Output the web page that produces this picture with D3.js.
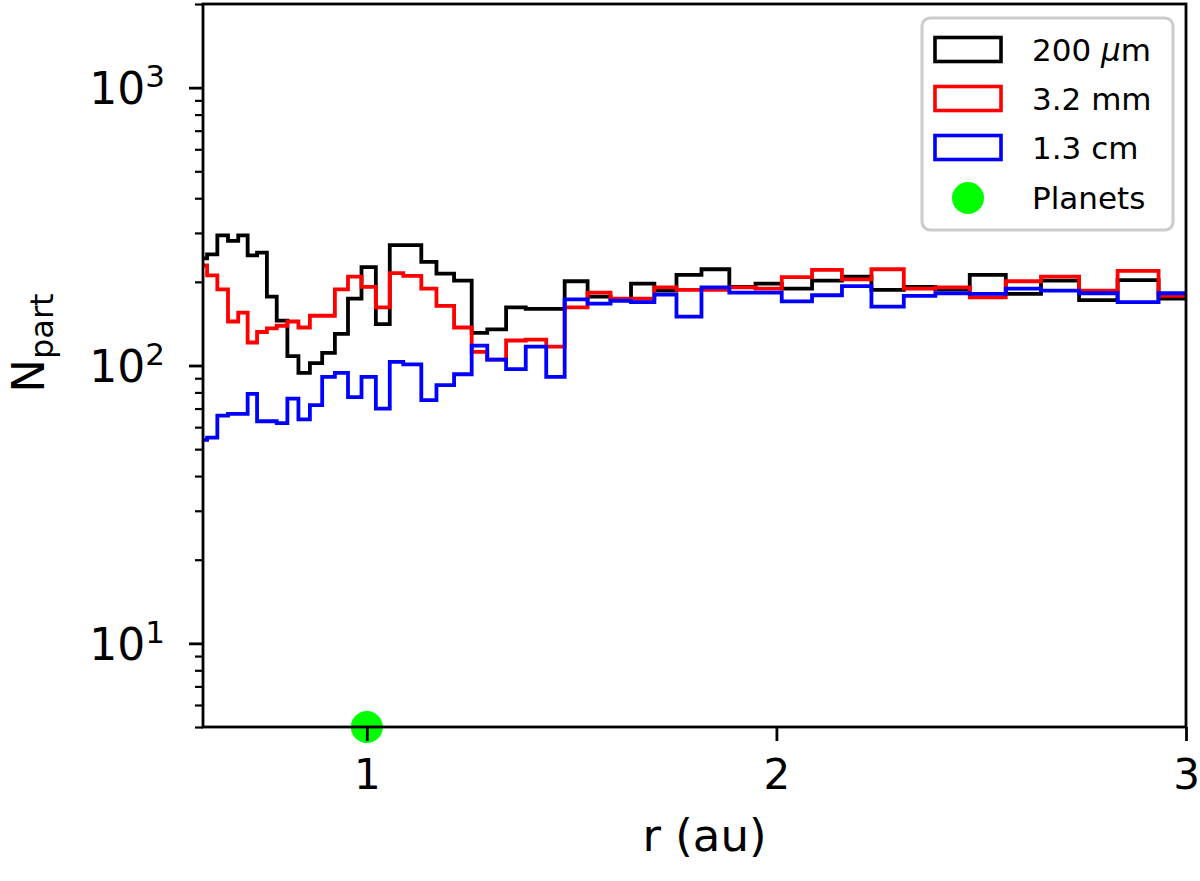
<!DOCTYPE html>
<html><head><meta charset="utf-8">
<script src="https://cdn.jsdelivr.net/npm/d3@7/dist/d3.min.js"></script>
<style>
body{margin:0;background:#fff}
svg{display:block}
text{font-family:"DejaVu Sans",sans-serif;fill:#000}
</style>
</head><body>
<svg id="chart" width="1200" height="881"></svg>
<script>
// ---- data ----
const binEdges = [0.585,0.610,0.635,0.661,0.686,0.709,0.732,0.756,0.780,0.806,0.833,0.861,0.891,0.922,0.954,0.987,1.022,1.056,1.089,1.133,1.170,1.213,1.256,1.294,1.340,1.388,1.438,1.483,1.539,1.595,1.645,1.702,1.756,1.817,1.885,1.949,2.013,2.087,2.160,2.232,2.311,2.388,2.472,2.560,2.646,2.739,2.833,2.933,3.030];
const counts200um = [243,251,294,281,294,249,255,177,145,108,94,102,111,130,174,226,141,271,271,236,214,202,131,135,162,160,160,201,177,173,197,186,212,222,192,197,189,202,209,187,192,188,212,181,202,172,203,174];
const counts32mm  = [229,211,188,144,155,121,132,136,139,144,137,151,151,188,209,192,162,215,210,189,164,137,112,105,123,124,117,162,183,174,174,191,187,187,191,189,208,221,204,222,189,191,176,201,209,186,219,178];
const counts13cm  = [54,55,66,67,67,79,63,63,62,76,64,72,91,94,77,91,70,103,101,75,85,93,118,105,97,117,91,173,167,171,169,180,150,191,183,183,170,179,193,163,178,182,181,189,186,182,169,182];
const seriesLabels = ["200 μm","3.2 mm","1.3 cm"];
const seriesColors = ["#000000","#ff0000","#0000ff"];
const planetR = [1.0];
const planetN = [5];
const planetLabel = "Planets";
const planetColor = "#00ff00";
const xTickValues = [1,2,3];
const yMajorTicks = [10,100,1000];
const yMajorExponents = ["1","2","3"];
const yMinorTicks = [5,6,7,8,9,20,30,40,50,60,70,80,90,200,300,400,500,600,700,800,900,2000];
const xDomain = [0.6,3];
const yDomain = [5,2000];
const xLabel = "r (au)";
const yLabelMain = "N";
const yLabelSub = "part";

// ---- layout ----
const L = 203, R = 1186, T = 4, B = 727;
const svg = d3.select("#chart");
const x = d3.scaleLinear().domain(xDomain).range([L, R]);
const y = d3.scaleLog().domain(yDomain).range([B, T]);

svg.append("defs").append("clipPath").attr("id","clip")
  .append("rect").attr("x",L).attr("y",T).attr("width",R-L).attr("height",B-T);

const allSeries = [counts200um, counts32mm, counts13cm];
const line = d3.line().x(d=>x(d[0])).y(d=>y(d[1])).curve(d3.curveStepAfter);
const gPlot = svg.append("g").attr("clip-path","url(#clip)");
allSeries.forEach((vals,i)=>{
  const pts = vals.map((v,j)=>[binEdges[j], v]);
  pts.push([binEdges[binEdges.length-1], vals[vals.length-1]]);
  gPlot.append("path").attr("d", line(pts))
    .attr("fill","none").attr("stroke",seriesColors[i]).attr("stroke-width",3.8)
    .attr("stroke-linejoin","miter");
});

// planets (not clipped)
svg.append("g").selectAll("circle").data(planetR).join("circle")
  .attr("cx",(d)=>x(d)).attr("cy",(d,i)=>y(planetN[i])).attr("r",16)
  .attr("fill",planetColor);

// ---- axes ----
const axisStroke = 2.8;
const xAxis = svg.append("g").attr("transform",`translate(0,${B})`)
  .call(d3.axisBottom(x).tickValues(xTickValues).tickSize(14).tickSizeOuter(0).tickPadding(18).tickFormat(d3.format("d")));
xAxis.select(".domain").remove();
xAxis.selectAll("line").attr("stroke","#000").attr("stroke-width",axisStroke);
xAxis.selectAll("text").attr("font-size",42).attr("font-family","DejaVu Sans").attr("fill","#000");

const yMinor = svg.append("g").attr("transform",`translate(${L},0)`)
  .call(d3.axisLeft(y).tickValues(yMinorTicks).tickSize(8).tickSizeOuter(0).tickFormat(""));
yMinor.select(".domain").remove();
yMinor.selectAll("line").attr("stroke","#000").attr("stroke-width",2.2);

const yMajor = svg.append("g").attr("transform",`translate(${L},0)`)
  .call(d3.axisLeft(y).tickValues(yMajorTicks).tickSize(14).tickSizeOuter(0).tickPadding(24).tickFormat(()=>""));
yMajor.select(".domain").remove();
yMajor.selectAll("line").attr("stroke","#000").attr("stroke-width",axisStroke);
yMajor.selectAll("text").each(function(d,i){
  const t = d3.select(this).attr("font-size",44).attr("dy",null).attr("dominant-baseline",null)
    .attr("y",16).attr("fill","#000");
  t.append("tspan").text("10");
  t.append("tspan").attr("font-size",31).attr("dy",-17).text(yMajorExponents[i]);
});

// spines
svg.append("rect").attr("x",L).attr("y",T).attr("width",R-L).attr("height",B-T)
  .attr("fill","none").attr("stroke","#000").attr("stroke-width",axisStroke);

// axis labels
svg.append("text").attr("x",(L+R)/2+10).attr("y",851).attr("text-anchor","middle")
  .attr("font-size",45).text(xLabel);
const yl = svg.append("text").attr("transform","translate(44,343) rotate(-90)")
  .attr("text-anchor","middle").attr("font-size",45);
yl.append("tspan").text(yLabelMain);
yl.append("tspan").attr("font-size",32).attr("dy",9).text(yLabelSub);

// ---- legend ----
const lg = svg.append("g");
lg.append("rect").attr("x",922).attr("y",18).attr("width",251).attr("height",212).attr("rx",8)
  .attr("fill","#fff").attr("fill-opacity",0.8).attr("stroke","#cccccc").attr("stroke-width",3);
const rowsY = [49.5, 98.5, 147.5, 198];
seriesLabels.forEach((lab,i)=>{
  lg.append("rect").attr("x",935).attr("y",rowsY[i]-12).attr("width",66).attr("height",24)
    .attr("fill","none").attr("stroke",seriesColors[i]).attr("stroke-width",3.6);
  const t = lg.append("text").attr("x",1032).attr("y",rowsY[i]+11).attr("font-size",31);
  if (lab.indexOf("μ")>=0){
    const parts = lab.split("μ");
    t.append("tspan").text(parts[0]);
    t.append("tspan").attr("font-style","italic").text("μ");
    t.append("tspan").text(parts[1]);
  } else t.text(lab);
});
lg.append("circle").attr("cx",968).attr("cy",rowsY[3]).attr("r",16).attr("fill",planetColor);
lg.append("text").attr("x",1032).attr("y",rowsY[3]+11).attr("font-size",31).text(planetLabel);
</script>
</body></html>
